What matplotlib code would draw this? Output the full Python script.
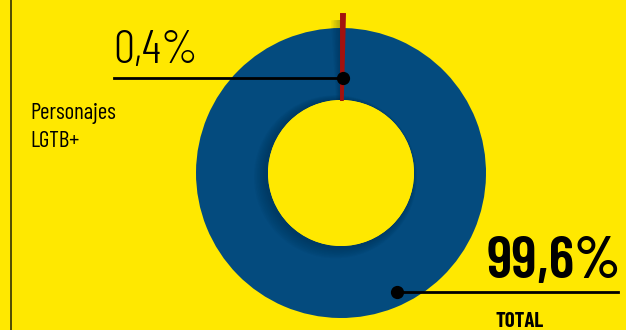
import numpy as np
import matplotlib.pyplot as plt
from matplotlib.patches import Wedge, Circle

# data
labels = ['Personajes\nLGTB+', 'TOTAL']
values = [0.4, 99.6]
value_txt = ['0,4%', '99,6%']

yellow = '#FFE800'
blue = '#044B7E'
red = '#A3120E'
cond = ['Barlow Condensed', 'DejaVu Sans']

H = 330.0
def Y(py):
    return H - py

fig = plt.figure(figsize=(6.26, 3.30), dpi=100, facecolor=yellow)
ax = fig.add_axes([0, 0, 1, 1])
ax.set_facecolor(yellow)

cx, cy = 341, Y(173)
r_out, r_in = 145, 73

wedges, _ = ax.pie(values, colors=[red, blue], startangle=90, counterclock=False,
                   radius=r_out, center=(cx, cy), frame=True,
                   wedgeprops=dict(width=r_out - r_in, linewidth=0))

# soft shadow cast by the hole on the ring
for k in range(8):
    sh = Circle((cx - 2 - k * 0.5, cy - 1 - k * 0.4), r_in + 1.5 + k * 1.0,
                facecolor='#001a33', edgecolor='none', alpha=0.045, zorder=2)
    sh.set_clip_path(wedges[1])
    ax.add_patch(sh)

# shadow next to the red slice
th1 = wedges[0].theta1
th2 = wedges[0].theta2
for k in range(6):
    sh = Wedge((cx, cy), r_out + 8, th2, th2 + 0.8 + k * 0.6, width=r_out + 8 - r_in,
               facecolor='#001a33', edgecolor='none', alpha=0.05, zorder=2)
    ax.add_patch(sh)

# red slice sticks out of the ring
ax.add_patch(Wedge((cx, cy), r_out + 14, th1, th2, width=r_out + 14 - r_in,
                   facecolor=red, edgecolor=red, lw=1.4, zorder=3))
ax.add_patch(Circle((cx, cy), r_in, facecolor=yellow, edgecolor='none', zorder=2.6))

# left rule
ax.plot([11, 11], [0, H], color='#222200', lw=1.1, zorder=4)

# 0,4% callout
ax.plot([114, 343], [Y(78), Y(78)], color='black', lw=2.0, zorder=5)
ax.plot([343], [Y(78)], 'o', color='black', ms=8.5, zorder=6)
ax.text(113, Y(63), value_txt[0], fontsize=34, family=cond, fontweight=300,
        color='black', ha='left', va='baseline', zorder=6)
ax.text(30, Y(147), labels[0], fontsize=16.5, family=cond, fontweight=400,
        color='black', ha='left', va='baseline', linespacing=1.45, zorder=6)

# 99,6% callout
ax.plot([397, 618], [Y(292), Y(292)], color='black', lw=2.0, zorder=5)
ax.plot([397], [Y(292)], 'o', color='black', ms=8.5, zorder=6)
ax.text(621, Y(278), value_txt[1], fontsize=43, family=cond, fontweight=600,
        color='black', ha='right', va='baseline', zorder=6)
ax.text(495, Y(327), labels[1], fontsize=15, family=cond, fontweight='bold',
        color='black', ha='left', va='baseline', zorder=6)

ax.set_xlim(0, 626)
ax.set_ylim(0, H)
ax.set_aspect('auto')
ax.axis('off')

fig.savefig('out.png', dpi=100, facecolor=yellow)
